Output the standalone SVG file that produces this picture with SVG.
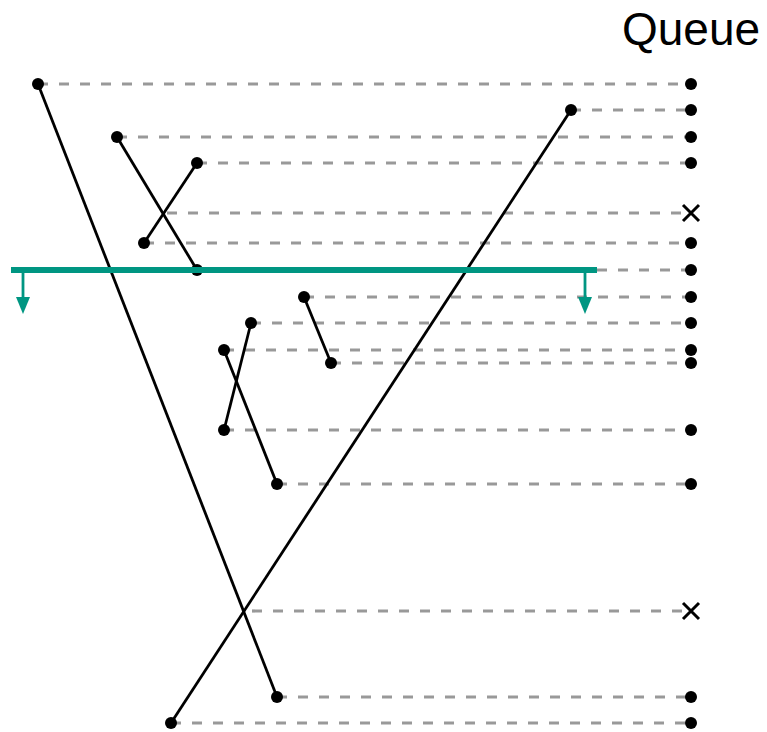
<svg xmlns="http://www.w3.org/2000/svg" width="767" height="732" viewBox="0 0 767 732">
<style>
.dash{stroke:#999;stroke-width:3.2;stroke-dasharray:10 11;fill:none}
.seg{stroke:#000;stroke-width:2.8;fill:none}
.dot{fill:#000}
.x{stroke:#000;stroke-width:3;fill:none}
.sweep{stroke:#009682;stroke-width:6;fill:none}
.arr{stroke:#009682;stroke-width:2.8;fill:none}
.title{font-family:"Liberation Sans",Arial,sans-serif;font-size:46px;fill:#000}
</style>
<rect width="767" height="732" fill="#fff"/>
<text class="title" x="622" y="45">Queue</text>
<g id="connectors">
<line class="dash" x1="38" y1="84" x2="691" y2="84"/>
<line class="dash" x1="571" y1="110" x2="691" y2="110"/>
<line class="dash" x1="117" y1="137" x2="691" y2="137"/>
<line class="dash" x1="197" y1="163" x2="691" y2="163"/>
<line class="dash" x1="167" y1="213" x2="691" y2="213"/>
<line class="dash" x1="144" y1="243" x2="691" y2="243"/>
<line class="dash" x1="597" y1="270" x2="691" y2="270"/>
<line class="dash" x1="304" y1="297" x2="691" y2="297"/>
<line class="dash" x1="251" y1="323" x2="691" y2="323"/>
<line class="dash" x1="224" y1="350" x2="691" y2="350"/>
<line class="dash" x1="331" y1="363" x2="691" y2="363"/>
<line class="dash" x1="224" y1="430" x2="691" y2="430"/>
<line class="dash" x1="277" y1="484" x2="691" y2="484"/>
<line class="dash" x1="252" y1="611" x2="691" y2="611"/>
<line class="dash" x1="277" y1="697" x2="691" y2="697"/>
<line class="dash" x1="171" y1="723" x2="691" y2="723"/>
<line class="seg" x1="38" y1="84" x2="277" y2="697"/>
<line class="seg" x1="571" y1="110" x2="171" y2="723"/>
<line class="seg" x1="117" y1="137" x2="197" y2="270"/>
<line class="seg" x1="197" y1="163" x2="144" y2="243"/>
<line class="seg" x1="304" y1="297" x2="331" y2="363"/>
<line class="seg" x1="251" y1="323" x2="224" y2="430"/>
<line class="seg" x1="224" y1="350" x2="277" y2="484"/>
</g>
<g id="segment-endpoints">
<circle class="dot" cx="38" cy="84" r="6"/>
<circle class="dot" cx="277" cy="697" r="6"/>
<circle class="dot" cx="571" cy="110" r="6"/>
<circle class="dot" cx="171" cy="723" r="6"/>
<circle class="dot" cx="117" cy="137" r="6"/>
<circle class="dot" cx="197" cy="270" r="6"/>
<circle class="dot" cx="197" cy="163" r="6"/>
<circle class="dot" cx="144" cy="243" r="6"/>
<circle class="dot" cx="304" cy="297" r="6"/>
<circle class="dot" cx="331" cy="363" r="6"/>
<circle class="dot" cx="251" cy="323" r="6"/>
<circle class="dot" cx="224" cy="430" r="6"/>
<circle class="dot" cx="224" cy="350" r="6"/>
<circle class="dot" cx="277" cy="484" r="6"/>
</g>
<g id="sweep-line">
<line class="sweep" x1="11" y1="270" x2="597" y2="270"/>
<line class="arr" x1="23" y1="272" x2="23" y2="300"/>
<path d="M16,297 L30,297 L23,314 Z" fill="#009682"/>
<line class="arr" x1="585" y1="272" x2="585" y2="300"/>
<path d="M578,297 L592,297 L585,314 Z" fill="#009682"/>
</g>
<g id="queue">
<circle class="dot" cx="691" cy="84" r="6"/>
<circle class="dot" cx="691" cy="110" r="6"/>
<circle class="dot" cx="691" cy="137" r="6"/>
<circle class="dot" cx="691" cy="163" r="6"/>
<path class="x" d="M683,205 L699,221 M699,205 L683,221"/>
<circle class="dot" cx="691" cy="243" r="6"/>
<circle class="dot" cx="691" cy="270" r="6"/>
<circle class="dot" cx="691" cy="297" r="6"/>
<circle class="dot" cx="691" cy="323" r="6"/>
<circle class="dot" cx="691" cy="350" r="6"/>
<circle class="dot" cx="691" cy="363" r="6"/>
<circle class="dot" cx="691" cy="430" r="6"/>
<circle class="dot" cx="691" cy="484" r="6"/>
<path class="x" d="M683,603 L699,619 M699,603 L683,619"/>
<circle class="dot" cx="691" cy="697" r="6"/>
<circle class="dot" cx="691" cy="723" r="6"/>
</g>
</svg>
